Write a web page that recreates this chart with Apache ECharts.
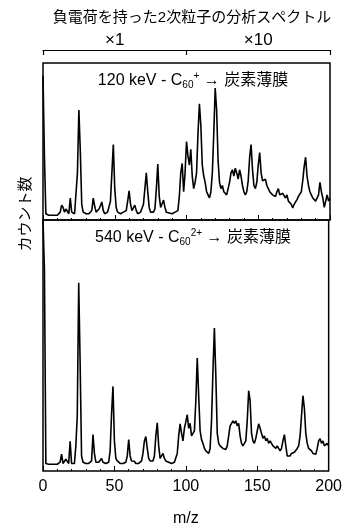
<!DOCTYPE html>
<html>
<head>
<meta charset="utf-8">
<script src="https://cdn.jsdelivr.net/npm/echarts@6/dist/echarts.min.js"></script>
<style>
  html, body { margin: 0; padding: 0; background: #fff; }
  #chart { width: 345px; height: 528px; }
</style>
</head>
<body>
<div id="chart"></div>
<script>
// m/z grid shared by both spectra
const massAxis = Array.from({ length: 201 }, (_, i) => i)

// 120 keV C60+ : counts, 0-100 at x1, 100-200 at x10 (relative panel height)
const upperCounts = [
  92, 40, 4, 3, 3, 3, 3, 3, 3, 3,
  3, 3.5, 5, 9.5, 8, 5, 7, 8, 4, 14,
  5, 4, 4, 5, 30, 70, 44, 10, 5, 4,
  4, 4, 4, 5, 6, 14, 9, 5, 6, 7,
  9, 11.5, 6, 4, 4, 5, 6, 12, 30, 48,
  20, 8, 5, 4, 4, 4, 5, 5, 6, 12,
  18.5, 10, 6, 7, 9.5, 6, 4, 4, 5, 6,
  10, 20, 30, 18, 8, 5, 4, 5, 7, 20,
  35.7, 15, 8, 9, 12.7, 8, 5, 5, 4.5, 4,
  4, 4, 5, 5, 6, 15, 30, 36, 18, 30,
  50, 41, 35, 45, 28, 20, 24, 30, 55, 74,
  60, 35, 28, 24, 18, 16, 14, 18, 30, 55,
  84, 70, 38, 24, 20, 22, 18, 17, 16, 20,
  24, 30, 32, 28, 33, 30, 26, 32, 28, 22,
  18, 16, 18, 25, 40, 48, 32, 22, 20, 24,
  35, 43, 30, 25, 24, 26, 22, 20, 18, 19,
  16, 17, 15, 18, 20, 16, 15, 17, 18, 14,
  16, 12, 13, 10, 7.6, 10, 9, 13, 15, 14,
  18, 25, 34, 40, 28, 22, 18, 16, 14, 13,
  12, 11, 16, 24, 18, 14, 8, 12, 16, 12,
  14
]

// 540 keV C60 2+ : counts (relative panel height)
const lowerCounts = [
  100, 80, 3, 2.7, 2.7, 2.7, 2.7, 2.7, 2.7, 2.7,
  2.7, 2.7, 3.5, 6.7, 3, 3, 4.7, 4.7, 3, 11.8,
  3, 3, 3, 10, 22, 75, 43, 6, 3.5, 3,
  3, 3, 3, 3, 4, 14.5, 7, 3.5, 3, 3.5,
  4, 5, 3.5, 3, 3, 3, 3.5, 8, 22.7, 33.7,
  12, 5, 4, 3.5, 3, 3, 3, 3, 3.5, 6,
  12.5, 6, 4, 3.5, 3.9, 3, 3, 3, 3, 4,
  7, 12, 13.7, 9, 5, 4, 3.5, 4, 6, 14,
  19.2, 10, 5, 6, 7, 5, 4, 3.5, 3.5, 3,
  3, 3, 3.5, 4, 7, 14, 18.8, 15, 12, 17,
  19.6, 22.4, 17, 19, 14, 13.7, 16, 28, 45, 30,
  16, 12.5, 11, 9, 8, 7.5, 7, 9, 20, 40,
  57, 38, 15, 11, 10, 10, 9, 9, 8.6, 10,
  14, 18, 19, 20, 19, 20, 18, 19, 14, 11,
  10, 9.8, 12, 20, 32, 28, 15, 12, 11, 13,
  16, 18.8, 17, 15, 13, 14, 12, 13, 11, 12,
  11, 10, 10, 9, 10, 9, 8, 9, 12, 14.5,
  10, 6, 5.9, 6, 7, 7, 7.5, 8, 9, 10,
  14, 22, 30, 25, 15, 11, 9, 8.6, 8, 7,
  7, 6.7, 9, 12, 12.9, 11, 12, 10, 9.8, 11,
  10
]

const massTicks = [0, 50, 100, 150, 200]
const scaleLabels = { 50: '×1', 150: '×10' }

const font = "'Liberation Sans', 'Noto Sans CJK JP', sans-serif"

const chart = echarts.init(document.getElementById('chart'))

const pairs = (ys) => massAxis.map((m, i) => [m, ys[i]])

const baseX = (gridIndex) => ({
  gridIndex: gridIndex,
  type: 'value',
  min: massTicks[0],
  max: massTicks[massTicks.length - 1],
  interval: 50,
  axisLine: { show: false },
  axisTick: { show: true, inside: true, length: 5, lineStyle: { color: '#000' } },
  minorTick: { show: true, splitNumber: 5, length: 2, lineStyle: { color: '#000' } },
  splitLine: { show: false },
  axisLabel: { show: false },
})

const labelRich = {
  sub: { fontSize: 10, verticalAlign: 'bottom', padding: [9, 0, 0, 0] },
  sup: { fontSize: 10, verticalAlign: 'top', padding: [0, 0, 9, 0] },
}

const option = {
  animation: false,
  textStyle: { fontFamily: font, color: '#000' },
  title: [
    {
      text: '負電荷を持った2次粒子の分析スペクトル',
      left: 187,
      top: 5,
      textAlign: 'center',
      textStyle: { fontSize: 15, fontWeight: 'normal', color: '#000', fontFamily: font },
    },
    {
      text: '120 keV - C{sub|60}{sup|+} → 炭素薄膜',
      left: 188,
      top: 66,
      textAlign: 'center',
      textStyle: { fontSize: 16, fontWeight: 'normal', color: '#000', fontFamily: font, rich: labelRich },
    },
    {
      text: '540 keV - C{sub|60}{sup|2+} → 炭素薄膜',
      left: 188,
      top: 223,
      textAlign: 'center',
      textStyle: { fontSize: 16, fontWeight: 'normal', color: '#000', fontFamily: font, rich: labelRich },
    },
  ],
  graphic: [
    {
      type: 'text',
      x: 26,
      y: 214,
      rotation: Math.PI / 2,
      style: {
        text: 'カウント数',
        font: '15px ' + font,
        fill: '#000',
        textAlign: 'center',
        textVerticalAlign: 'middle',
      },
    },
  ],
  grid: [
    { left: 43, right: 15, top: 63, height: 157, show: true, borderColor: '#000', borderWidth: 1.5, backgroundColor: 'transparent' },
    { left: 43, right: 15, top: 220, height: 255, show: true, borderColor: '#000', borderWidth: 1.5, backgroundColor: 'transparent' },
  ],
  xAxis: [
    baseX(0),
    Object.assign(baseX(1), {
      axisLabel: { show: true, fontSize: 16, color: '#000', margin: 8 },
      name: 'm/z',
      nameLocation: 'middle',
      nameGap: 40,
      nameTextStyle: { fontSize: 16, color: '#000' },
    }),
    {
      gridIndex: 0,
      type: 'value',
      position: 'top',
      offset: 13,
      min: 0,
      max: 200,
      interval: 100,
      axisLine: { show: true, lineStyle: { color: '#000', width: 1.2 } },
      axisTick: { show: true, inside: true, length: 5, lineStyle: { color: '#000', width: 1.2 } },
      axisLabel: { show: false },
      splitLine: { show: false },
    },
    {
      gridIndex: 0,
      type: 'value',
      position: 'top',
      offset: 13,
      min: 0,
      max: 200,
      interval: 50,
      axisLine: { show: false },
      axisTick: { show: false },
      splitLine: { show: false },
      axisLabel: {
        show: true,
        fontSize: 17,
        color: '#000',
        margin: 1,
        formatter: (v) => scaleLabels[v] || '',
      },
    },
  ],
  yAxis: [
    { gridIndex: 0, type: 'value', min: 0, max: 100, show: false },
    { gridIndex: 1, type: 'value', min: 0, max: 100, show: false },
  ],
  series: [
    {
      type: 'line',
      xAxisIndex: 0,
      yAxisIndex: 0,
      data: pairs(upperCounts),
      showSymbol: false,
      lineStyle: { color: '#000', width: 1.6 },
    },
    {
      type: 'line',
      xAxisIndex: 1,
      yAxisIndex: 1,
      data: pairs(lowerCounts),
      showSymbol: false,
      lineStyle: { color: '#000', width: 1.6 },
    },
  ],
}

chart.setOption(option)
</script>
</body>
</html>
